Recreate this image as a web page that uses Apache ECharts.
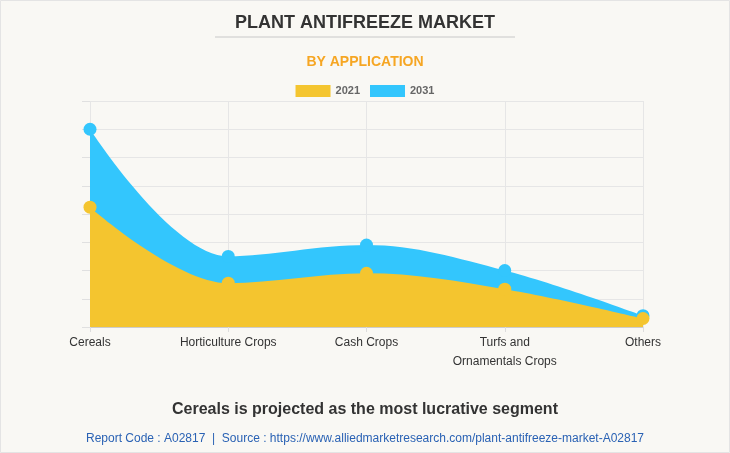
<!DOCTYPE html>
<html><head><meta charset="utf-8">
<script src="https://cdn.jsdelivr.net/npm/echarts@6/dist/echarts.min.js"></script>
<style>html,body{margin:0;padding:0;background:#f9f8f4;}#c{width:730px;height:453px;}</style>
</head><body><div id="c"></div>
<script>
const categories = ['Cereals', 'Horticulture Crops', 'Cash Crops', 'Turfs and\nOrnamentals Crops', 'Others'];
const values2021 = [4.24, 1.55, 1.9, 1.34, 0.3];
const values2031 = [7.0, 2.5, 2.9, 2.0, 0.4];
const seriesNames = ['2021', '2031'];

const chart = echarts.init(document.getElementById('c'), null, {renderer: 'canvas'});
const yellow = '#f4c52f', blue = '#33c6fd';
chart.setOption({
  backgroundColor: '#f9f8f4',
  animation: false,
  title: [
    {text: 'PLANT ANTIFREEZE MARKET', left: 'center', top: 9,
     textStyle: {fontFamily: 'Liberation Sans, Arial', fontWeight: 'bold', fontSize: 18, color: '#333'}},
    {text: 'BY APPLICATION', left: 'center', top: 50,
     textStyle: {fontFamily: 'Liberation Sans, Arial', fontWeight: 'bold', fontSize: 14, color: '#f6a623'}},
    {text: 'Cereals is projected as the most lucrative segment', left: 'center', top: 397,
     textStyle: {fontFamily: 'Liberation Sans, Arial', fontWeight: 'bold', fontSize: 16, color: '#333'}},
    {text: 'Report Code : A02817  |  Source : https://www.alliedmarketresearch.com/plant-antifreeze-market-A02817', left: 'center', top: 428,
     textStyle: {fontFamily: 'Liberation Sans, Arial', fontWeight: 'normal', fontSize: 12, color: '#2a62b4'}}
  ],
  legend: {
    top: 80, left: 'center', itemWidth: 35, itemHeight: 12, itemGap: 10,
    icon: 'rect',
    textStyle: {fontFamily: 'Liberation Sans, Arial', fontSize: 11, color: '#666', fontWeight: 'bold'},
    data: seriesNames
  },
  graphic: [
    {type: 'line', shape: {x1: 215, y1: 37, x2: 515, y2: 37}, style: {stroke: '#c8c8c8', lineWidth: 1}},
    {type: 'rect', shape: {x: 0.5, y: 0.5, width: 729, height: 452}, style: {fill: 'none', stroke: '#e4e4e4', lineWidth: 1}}
  ],
  grid: {left: 90, right: 87, top: 101, bottom: 126},
  xAxis: {
    type: 'category', data: categories, boundaryGap: false,
    axisLine: {lineStyle: {color: '#ccc'}},
    axisTick: {show: true, alignWithLabel: true, lineStyle: {color: '#ddd'}},
    axisLabel: {fontFamily: 'Liberation Sans, Arial', fontSize: 12, color: '#333', lineHeight: 19, margin: 6},
    splitLine: {show: true, lineStyle: {color: '#e6e6e6'}}
  },
  yAxis: {
    type: 'value', min: 0, max: 8, interval: 1,
    axisLine: {show: false},
    axisTick: {show: true, length: 8, lineStyle: {color: '#e0e0e0'}},
    axisLabel: {show: false},
    splitLine: {lineStyle: {color: '#e6e6e6'}}
  },
  series: [
    {name: '2031', type: 'line', smooth: 0.35, data: values2031, z: 2,
     symbol: 'circle', symbolSize: 13, itemStyle: {color: blue},
     lineStyle: {width: 0, color: blue}, areaStyle: {color: blue, opacity: 1}},
    {name: '2021', type: 'line', smooth: 0.35, data: values2021, z: 3,
     symbol: 'circle', symbolSize: 13, itemStyle: {color: yellow},
     lineStyle: {width: 0, color: yellow}, areaStyle: {color: yellow, opacity: 1}}
  ]
});
</script></body></html>
